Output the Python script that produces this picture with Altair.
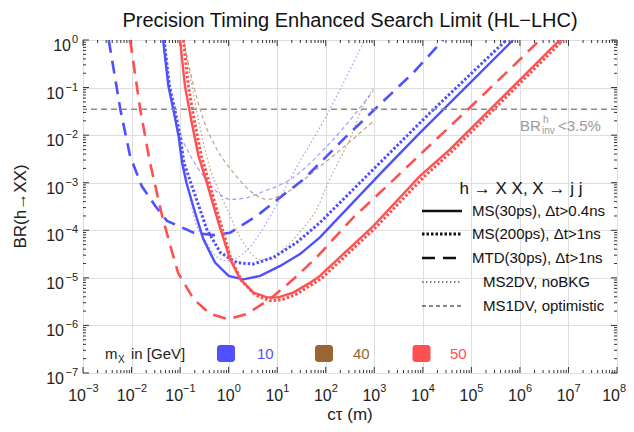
import altair as alt
import pandas as pd

FONT = "Liberation Sans"
BLUE = "#5050ff"
RED = "#ff5050"
BROWN = "#996633"
GRAY = "#8c8c8c"

# ---------------- data (ctau in m, BR) ----------------
# m_X = 10 GeV
b_mtd_ct = [3.39e-3, 5.89e-3, 9.33e-3, 1.62e-2, 3.09e-2, 5.37e-2, 9.33e-2, 0.191, 0.49, 1.07, 3.8, 11.5, 34.7, 269, 1120, 6310, 26300]
b_mtd_br = [1.0, 3.47e-2, 3.63e-3, 8.5e-4, 3.24e-4, 1.58e-4, 1.23e-4, 8.9e-5, 7.9e-5, 8.9e-5, 2.0e-4, 4.9e-4, 1.17e-3, 9.5e-3, 3.8e-2, 0.204, 1.0]

b_ms30_ct = [4.47e-2, 5.75e-2, 7.24e-2, 9.33e-2, 0.110, 0.135, 0.204, 0.302, 0.525, 1.0, 2.0, 4.47, 11.5, 29.5, 75.9, 1510, 8710, 7.24e5]
b_ms30_br = [1.0, 0.107, 3.47e-2, 9.5e-3, 2.63e-3, 1.0e-3, 2.34e-4, 6.46e-5, 2.09e-5, 1.1e-5, 9.3e-6, 1.1e-5, 1.78e-5, 3.16e-5, 7.08e-5, 1.78e-3, 1.12e-2, 1.0]

b_ms200_ct = [4.68e-2, 6.03e-2, 7.76e-2, 0.1, 0.120, 0.166, 0.355, 0.676, 1.48, 3.24, 8.32, 25.1, 75.9, 14100, 5.25e5]
b_ms200_br = [1.0, 0.107, 3.47e-2, 9.5e-3, 2.63e-3, 1.0e-3, 1.05e-4, 3.39e-5, 2.09e-5, 1.95e-5, 2.69e-5, 5.5e-5, 1.45e-4, 2.95e-2, 1.0]

b_2dv_ct = [9.55e-2, 0.141, 0.191, 0.355, 0.49, 0.912, 2.34, 7.08, 20, 100, 631]
b_2dv_br = [6.3e-3, 1.0e-3, 2.0e-4, 5.5e-5, 3.16e-5, 2.29e-5, 3.72e-5, 1.91e-4, 1.41e-3, 2.4e-2, 1.0]

b_1dv_ct = [8.9e-2, 0.110, 0.178, 0.302, 0.562, 1.07, 2.24, 4.47, 18.6, 123, 955]
b_1dv_br = [1.26e-2, 8.1e-3, 3.16e-3, 1.38e-3, 6.6e-4, 4.47e-4, 4.79e-4, 6.17e-4, 1.17e-3, 6.9e-3, 8.5e-2]

# m_X = 40 GeV
w_2dv_ct = [0.120, 0.224, 0.417, 0.562, 1.07, 2.0, 4.47, 8.32, 13.5, 31.6, 64.6, 112, 339, 550, 1000]
w_2dv_br = [1.0, 2.95e-2, 1.91e-3, 8.9e-4, 2.0e-4, 5.5e-5, 2.45e-5, 2.51e-5, 3.98e-5, 1.0e-4, 2.75e-4, 1.0e-3, 1.0e-2, 3.47e-2, 0.1]

w_1dv_ct = [0.117, 0.191, 0.302, 0.575, 1.26, 2.75, 6.17, 13.5, 64.6, 1000]
w_1dv_br = [1.0, 0.107, 2.14e-2, 5.0e-3, 1.62e-3, 6.8e-4, 4.47e-4, 5.75e-4, 1.91e-3, 2.04e-2]

# m_X = 50 GeV
r_mtd_ct = [9.33e-3, 1.51e-2, 2.4e-2, 4.27e-2, 6.31e-2, 9.12e-2, 0.191, 0.417, 1.0, 2.34, 7.08, 21.4, 64.6, 355, 2000, 8130, 93300, 7.24e5, 2.57e6]
r_mtd_br = [1.0, 3.47e-2, 2.63e-3, 2.0e-4, 4.68e-5, 1.26e-5, 3.55e-6, 1.74e-6, 1.35e-6, 1.74e-6, 3.55e-6, 9.3e-6, 2.69e-5, 1.78e-4, 9.3e-4, 3.63e-3, 3.8e-2, 0.282, 1.0]

r_ms30_ct = [0.1, 0.126, 0.174, 0.240, 0.355, 0.617, 1.07, 1.74, 3.24, 6.17, 10.5, 21.4, 47.9, 75.9, 955, 8710, 36300, 6.61e6]
r_ms30_br = [1.0, 0.107, 1.82e-2, 3.63e-3, 1.0e-3, 1.45e-4, 2.45e-5, 9.3e-6, 4.9e-6, 3.89e-6, 3.89e-6, 4.9e-6, 7.94e-6, 1.1e-5, 1.23e-4, 1.38e-3, 5.0e-3, 1.0]

r_ms200_ct = [0.117, 0.148, 0.2, 0.275, 0.398, 0.676, 1.12, 1.82, 3.55, 7.08, 12.6, 25.1, 56.2, 89.1, 1120, 10000, 41700, 7.76e6]
r_ms200_br = [1.0, 0.107, 1.82e-2, 3.63e-3, 1.0e-3, 1.45e-4, 2.45e-5, 8.9e-6, 4.37e-6, 3.31e-6, 3.47e-6, 4.57e-6, 7.59e-6, 1.05e-5, 1.2e-4, 1.26e-3, 4.79e-3, 1.0]

br_inv_limit = [0.035]

# ticks and tick labels
x_major = [1e-3, 1e-2, 1e-1, 1e0, 1e1, 1e2, 1e3, 1e4, 1e5, 1e6, 1e7, 1e8]
x_exp = ["\u22123", "\u22122", "\u22121", "0", "1", "2", "3", "4", "5", "6", "7", "8"]
y_major = [1e-7, 1e-6, 1e-5, 1e-4, 1e-3, 1e-2, 1e-1, 1e0]
y_exp = ["\u22127", "\u22126", "\u22125", "\u22124", "\u22123", "\u22122", "\u22121", "0"]
x_minor = [m * d for d in x_major[:-1] for m in range(2, 10)]
y_minor = [m * d for d in y_major[:-1] for m in range(2, 10)]

legend_labels = ["MS(30ps), \u0394t>0.4ns", "MS(200ps), \u0394t>1ns", "MTD(30ps), \u0394t>1ns",
                 "MS2DV, noBKG", "MS1DV, optimistic"]
mass_labels = ["10", "40", "50"]

TITLE = "Precision Timing Enhanced Search Limit (HL\u2212LHC)"
XTITLE = "c\u03c4 (m)"
YTITLE = "BR(h\u2192XX)"

# ---------------- scales & axes ----------------
W, H = 534, 333
xscale = alt.Scale(type="log", domain=[1e-3, 1e8], nice=False)
yscale = alt.Scale(type="log", domain=[1e-7, 1], nice=False)

xaxis = alt.Axis(values=x_major, grid=True, gridColor="#dedede", gridWidth=1,
                 ticks=False, domain=False, labels=False, title=None)
yaxis = alt.Axis(values=y_major, grid=True, gridColor="#dedede", gridWidth=1,
                 ticks=False, domain=False, labels=False, title=None)


def X():
    return alt.X("ct:Q", scale=xscale, axis=xaxis)


def Y():
    return alt.Y("br:Q", scale=yscale, axis=yaxis)


def curve(ct, br, color, width, dash=None, opacity=1.0, interp="linear"):
    kw = dict(color=color, strokeWidth=width, opacity=opacity, clip=True, interpolate=interp)
    if dash:
        kw["strokeDash"] = dash
    df = pd.DataFrame({"ct": ct, "br": br})
    return alt.Chart(df).mark_line(**kw).encode(x=X(), y=Y())


DOT_THICK = [2.5, 2]
DASH_THICK = [13, 8]
DOT_THIN = [1.5, 2.5]
DASH_THIN = [4, 3]

layers = []


# inward frame ticks
def xticks(vals, length):
    df = pd.DataFrame({"ct": vals})
    bot = alt.Chart(df).mark_rule(color="#333", strokeWidth=1).encode(
        x=X(), y=alt.value(H), y2=alt.value(H - length))
    top = alt.Chart(df).mark_rule(color="#333", strokeWidth=1).encode(
        x=X(), y=alt.value(0), y2=alt.value(length))
    return [bot, top]


def yticks(vals, length):
    df = pd.DataFrame({"br": vals})
    lef = alt.Chart(df).mark_rule(color="#333", strokeWidth=1).encode(
        y=Y(), x=alt.value(0), x2=alt.value(length))
    rig = alt.Chart(df).mark_rule(color="#333", strokeWidth=1).encode(
        y=Y(), x=alt.value(W), x2=alt.value(W - length))
    return [lef, rig]


layers += xticks(x_major, 6) + xticks(x_minor, 3) + yticks(y_major, 6) + yticks(y_minor, 3)

# tick labels "10" + superscript exponent, placed through the scales
LBL = "#222"
for sel, dx in [(slice(0, 3), 3), (slice(3, 11), 6), (slice(11, 12), 3)]:
    df = pd.DataFrame({"ct": x_major[sel], "e": x_exp[sel]})
    layers.append(alt.Chart(df).mark_text(text="10", font=FONT, fontSize=16, color=LBL,
                                          align="right", dx=dx).encode(x=X(), y=alt.value(H + 23)))
    layers.append(alt.Chart(df).mark_text(font=FONT, fontSize=11, color=LBL,
                                          align="left", dx=dx).encode(x=X(), y=alt.value(H + 16), text="e:N"))
for sel, xr in [(slice(0, 7), -19), (slice(7, 8), -12)]:
    df = pd.DataFrame({"br": y_major[sel], "e": y_exp[sel]})
    layers.append(alt.Chart(df).mark_text(text="10", font=FONT, fontSize=16, color=LBL,
                                          align="right", dy=6).encode(y=Y(), x=alt.value(xr)))
    layers.append(alt.Chart(df).mark_text(font=FONT, fontSize=11, color=LBL,
                                          align="right", dy=0).encode(y=Y(), x=alt.value(-5), text="e:N"))

# thin curves
layers.append(curve(w_2dv_ct, w_2dv_br, BROWN, 1.2, DOT_THIN, 0.6, "monotone"))
layers.append(curve(w_1dv_ct, w_1dv_br, BROWN, 1.2, DASH_THIN, 0.6, "monotone"))
layers.append(curve(b_2dv_ct, b_2dv_br, BLUE, 1.2, DOT_THIN, 0.55, "monotone"))
layers.append(curve(b_1dv_ct, b_1dv_br, BLUE, 1.2, DASH_THIN, 0.55, "monotone"))

# thick curves
layers.append(curve(b_mtd_ct, b_mtd_br, BLUE, 2.6, DASH_THICK))
layers.append(curve(b_ms200_ct, b_ms200_br, BLUE, 3.0, DOT_THICK))
layers.append(curve(b_ms30_ct, b_ms30_br, BLUE, 2.4))
layers.append(curve(r_mtd_ct, r_mtd_br, RED, 2.6, DASH_THICK))
layers.append(curve(r_ms200_ct, r_ms200_br, RED, 3.0, DOT_THICK))
layers.append(curve(r_ms30_ct, r_ms30_br, RED, 2.4))

# BR_inv limit line
layers.append(alt.Chart(pd.DataFrame({"br": br_inv_limit})).mark_rule(
    color=GRAY, strokeWidth=1.3, strokeDash=[6, 4]).encode(y=Y()))

one = pd.DataFrame({"k": [0]})


def label(text, x, y, size=15, color="#222", align="left", baseline="alphabetic", angle=0):
    kw = dict(text=text, font=FONT, fontSize=size, color=color, align=align, baseline=baseline)
    if angle:
        kw["angle"] = angle
    return alt.Chart(one).mark_text(**kw).encode(x=alt.value(x), y=alt.value(y))


# titles
layers.append(label(TITLE, W / 2, -13, 20, "#111", "center"))
layers.append(label(XTITLE, W / 2, H + 47, 17, "#222", "center"))
layers.append(label(YTITLE, -62, H / 2, 17, "#222", "center", "middle", 270))

# BR annotation
layers.append(label("BR", 437, 91, 15, "#9a9a9a"))
layers.append(label("h", 460, 83, 10, "#9a9a9a"))
layers.append(label("inv", 459, 94, 10, "#9a9a9a"))
layers.append(label("<3.5%", 475, 91, 15, "#9a9a9a"))

# Right legend
layers.append(label("h \u2192 X X, X \u2192 j j", 438, 149, 17, "#111", "center", "middle"))
rows_y = [171, 194, 218, 242, 266]
styles = [(2.6, None), (3.0, DOT_THICK), (2.6, DASH_THICK), (1.0, DOT_THIN), (1.0, DASH_THIN)]
text_x = [389, 389, 389, 400, 400]
for lab, ry, (sw, dash), tx in zip(legend_labels, rows_y, styles, text_x):
    kw = dict(color="#111", strokeWidth=sw)
    if dash:
        kw["strokeDash"] = dash
    layers.append(alt.Chart(one).mark_rule(**kw).encode(
        x=alt.value(339), x2=alt.value(379), y=alt.value(ry)))
    layers.append(label(lab, tx, ry, 15, "#111", "left", "middle"))

# Bottom mass legend
layers.append(label("m", 22, 319, 15, "#222"))
layers.append(label("X", 35, 323, 10, "#222"))
layers.append(label("in [GeV]", 48, 319, 15, "#222"))
for cx, col, lab, lx in zip([143, 241, 338.5], [BLUE, BROWN, RED], mass_labels, [174, 270, 367]):
    layers.append(alt.Chart(one).mark_rect(color=col, cornerRadius=3).encode(
        x=alt.value(cx - 9), x2=alt.value(cx + 9), y=alt.value(305), y2=alt.value(322)))
    layers.append(label(lab, lx, 319, 15, col))

chart = alt.layer(*layers).properties(
    width=W, height=H,
    autosize=alt.AutoSizeParams(type="none"),
    padding={"left": 75, "top": 32, "right": 9, "bottom": 51},
).configure_view(stroke="#333", strokeWidth=1)

chart.save("out.html", embed_options={"renderer": "svg", "actions": False})
